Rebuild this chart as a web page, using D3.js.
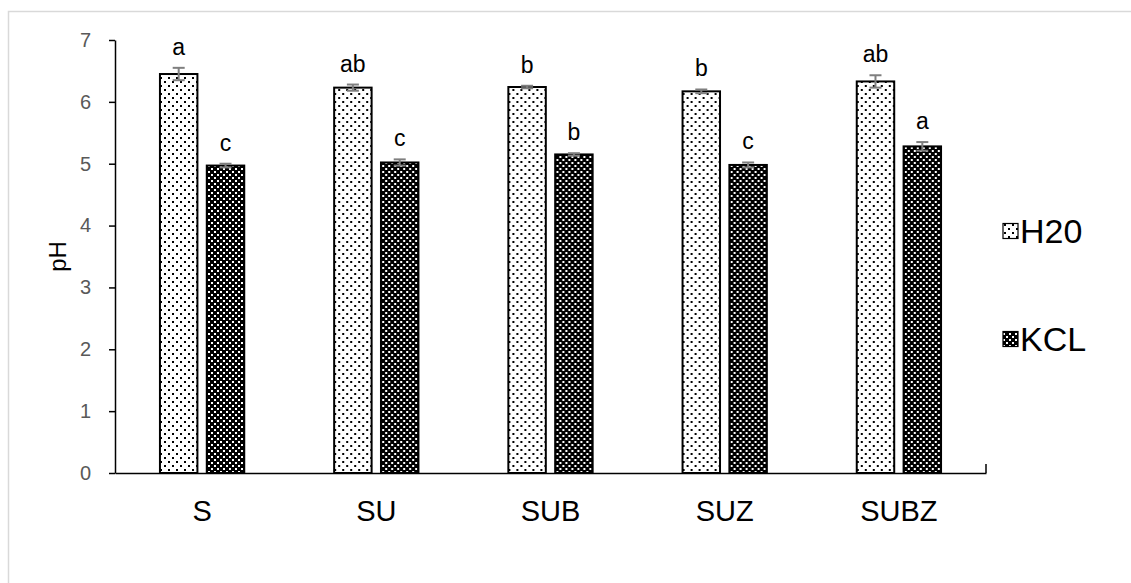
<!DOCTYPE html>
<html>
<head>
<meta charset="utf-8">
<script src="https://cdn.jsdelivr.net/npm/d3@7"></script>
<style>
  html, body { margin: 0; padding: 0; background: #fff; }
  svg { display: block; font-family: "Liberation Sans", Arial, sans-serif; }
</style>
</head>
<body>
<svg id="chart" width="1131" height="583"></svg>
<script>
// Soil pH measured in water and in KCl for each treatment
const treatments = ["S", "SU", "SUB", "SUZ", "SUBZ"];
const seriesNames = ["H20", "KCL"];
const phWater = [6.45, 6.23, 6.24, 6.17, 6.33];
const phKcl = [4.97, 5.02, 5.15, 4.98, 5.28];
const errWater = [0.10, 0.05, 0.02, 0.03, 0.10];
const errKcl = [0.03, 0.05, 0.02, 0.04, 0.07];
const lettersWater = ["a", "ab", "b", "b", "ab"];
const lettersKcl = ["c", "c", "b", "c", "a"];
const yTicks = [0, 1, 2, 3, 4, 5, 6, 7];

const rows = treatments.map((t, i) => ({
  treatment: t,
  bars: [
    { key: "H20", value: phWater[i], err: errWater[i], letter: lettersWater[i] },
    { key: "KCL", value: phKcl[i], err: errKcl[i], letter: lettersKcl[i] }
  ]
}));

const svg = d3.select("#chart");
const defs = svg.append("defs");

// Light dotted fill for the water series
const dots = defs.append("pattern").attr("id", "pat-h20")
  .attr("patternUnits", "userSpaceOnUse").attr("width", 8).attr("height", 8);
dots.append("rect").attr("width", 8).attr("height", 8).attr("fill", "#fff");
dots.append("rect").attr("x", 1).attr("y", 1).attr("width", 2).attr("height", 2).attr("fill", "#000");
dots.append("rect").attr("x", 5).attr("y", 5).attr("width", 2).attr("height", 2).attr("fill", "#000");

// Dark lattice fill for the KCl series
const lattice = defs.append("pattern").attr("id", "pat-kcl")
  .attr("patternUnits", "userSpaceOnUse").attr("width", 6).attr("height", 6);
lattice.append("rect").attr("width", 6).attr("height", 6).attr("fill", "#000");
lattice.append("rect").attr("x", 0).attr("y", 0).attr("width", 2).attr("height", 2).attr("fill", "#fff");
lattice.append("rect").attr("x", 3).attr("y", 3).attr("width", 2).attr("height", 2).attr("fill", "#fff");

const fills = { H20: "url(#pat-h20)", KCL: "url(#pat-kcl)" };

// Outer chart frame
svg.append("rect").attr("x", 8.5).attr("y", 11.5).attr("width", 1140).attr("height", 600)
  .attr("fill", "none").attr("stroke", "#d9d9d9").attr("stroke-width", 1.5);

const plot = { left: 115, right: 986, top: 40, bottom: 473 };

const x = d3.scaleBand().domain(treatments).range([plot.left, plot.right])
  .paddingInner(0).paddingOuter(0);
const inner = d3.scaleBand().domain(seriesNames)
  .range([0, x.bandwidth()]).paddingInner(0.2).paddingOuter(0.96);
const y = d3.scaleLinear().domain([0, 7]).range([plot.bottom, plot.top]);

// Y axis
const yAxis = svg.append("g").attr("transform", `translate(${plot.left},0)`)
  .call(d3.axisLeft(y).tickValues(yTicks).tickFormat(d3.format("d"))
    .tickSize(6).tickSizeOuter(0).tickPadding(18));
yAxis.select(".domain").attr("stroke", "#000").attr("stroke-width", 1.5);
yAxis.selectAll(".tick line").attr("stroke", "#000").attr("stroke-width", 1.5);
yAxis.selectAll(".tick text").attr("fill", "#595959").attr("font-size", 20)
  .attr("font-family", "Liberation Sans, Arial, sans-serif");

// Bars
const groups = svg.append("g").selectAll("g").data(rows).join("g")
  .attr("transform", d => `translate(${x(d.treatment)},0)`);

groups.selectAll("rect").data(d => d.bars).join("rect")
  .attr("x", b => inner(b.key))
  .attr("width", inner.bandwidth())
  .attr("y", b => y(b.value))
  .attr("height", b => y(0) - y(b.value))
  .attr("fill", b => fills[b.key])
  .attr("stroke", "#000").attr("stroke-width", 2);

// Error bars
const capHalf = 6;
const eb = groups.selectAll("g.err").data(d => d.bars).join("g").attr("class", "err")
  .attr("stroke", "#7f7f7f").attr("stroke-width", 2);
eb.append("line")
  .attr("x1", b => inner(b.key) + inner.bandwidth() / 2)
  .attr("x2", b => inner(b.key) + inner.bandwidth() / 2)
  .attr("y1", b => y(b.value + b.err)).attr("y2", b => y(b.value - b.err));
eb.append("line")
  .attr("x1", b => inner(b.key) + inner.bandwidth() / 2 - capHalf)
  .attr("x2", b => inner(b.key) + inner.bandwidth() / 2 + capHalf)
  .attr("y1", b => y(b.value + b.err)).attr("y2", b => y(b.value + b.err));
eb.append("line")
  .attr("x1", b => inner(b.key) + inner.bandwidth() / 2 - capHalf)
  .attr("x2", b => inner(b.key) + inner.bandwidth() / 2 + capHalf)
  .attr("y1", b => y(b.value - b.err)).attr("y2", b => y(b.value - b.err));

// Significance letters
groups.selectAll("text.sig").data(d => d.bars).join("text").attr("class", "sig")
  .attr("x", b => inner(b.key) + inner.bandwidth() / 2)
  .attr("y", b => y(b.value + b.err) - 13)
  .attr("text-anchor", "middle").attr("font-size", 23).attr("fill", "#000")
  .text(b => b.letter);

// X axis
const xAxis = svg.append("g").attr("transform", `translate(0,${plot.bottom})`)
  .call(d3.axisBottom(x).tickSize(0).tickSizeOuter(0).tickPadding(27));
xAxis.select(".domain").attr("stroke", "#000").attr("stroke-width", 1.5);
xAxis.selectAll(".tick text").attr("fill", "#000").attr("font-size", 29)
  .attr("font-family", "Liberation Sans, Arial, sans-serif");
// Closing tick at the right end of the category axis
svg.append("line")
  .attr("x1", plot.right).attr("x2", plot.right)
  .attr("y1", plot.bottom).attr("y2", plot.bottom - 9)
  .attr("stroke", "#000").attr("stroke-width", 1.5);

// Y axis title
svg.append("text")
  .attr("transform", `translate(66,${(plot.top + plot.bottom) / 2}) rotate(-90)`)
  .attr("text-anchor", "middle").attr("font-size", 24).attr("fill", "#000")
  .text("pH");

// Legend
const legend = svg.append("g").selectAll("g").data(seriesNames).join("g")
  .attr("transform", (d, i) => `translate(1003,${231 + i * 108})`);
legend.append("rect").attr("x", 0).attr("y", -7.5).attr("width", 15).attr("height", 15)
  .attr("fill", d => fills[d]).attr("stroke", "#000").attr("stroke-width", 1.2);
legend.append("text").attr("x", 17).attr("y", 0).attr("dy", "0.36em")
  .attr("font-size", 34).attr("fill", "#000").text(d => d);
</script>
</body>
</html>
